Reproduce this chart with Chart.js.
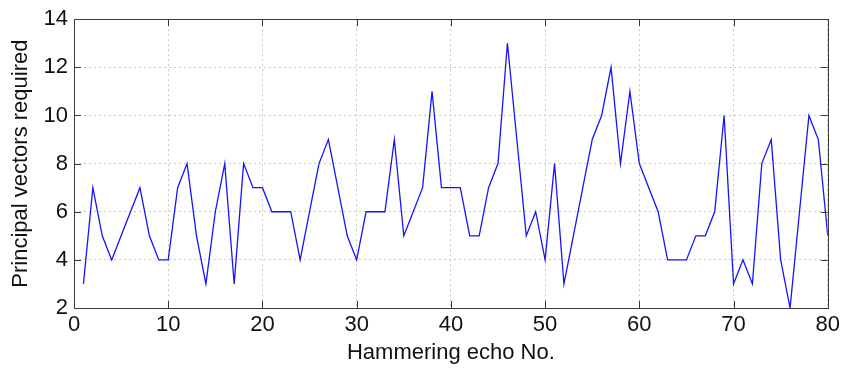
<!DOCTYPE html>
<html>
<head>
<meta charset="utf-8">
<script src="https://cdn.jsdelivr.net/npm/chart.js@4/dist/chart.umd.min.js"></script>
<style>
  html, body { margin: 0; padding: 0; background: #fff; }
</style>
</head>
<body>
<canvas id="myChart" width="844" height="369"></canvas>
<script>
// echo number 1..80 and how many principal vectors each one needed
var echoNo = [];
for (var n = 1; n <= 80; n++) echoNo.push(n);

var vectorsRequired = [
  3, 7, 5, 4, 5, 6, 7, 5, 4, 4,
  7, 8, 5, 3, 6, 8, 3, 8, 7, 7,
  6, 6, 6, 4, 6, 8, 9, 7, 5, 4,
  6, 6, 6, 9, 5, 6, 7, 11, 7, 7,
  7, 5, 5, 7, 8, 13, 9, 5, 6, 4,
  8, 3, 5, 7, 9, 10, 12, 8, 11, 8,
  7, 6, 4, 4, 4, 5, 5, 6, 10, 3,
  4, 3, 8, 9, 4, 2, 6, 10, 9, 5
];

var xTicks = [0, 10, 20, 30, 40, 50, 60, 70, 80];
var yTicks = [2, 4, 6, 8, 10, 12, 14];

var points = [];
for (var i = 0; i < echoNo.length; i++) {
  points.push({ x: echoNo[i], y: vectorsRequired[i] });
}

var fontFamily = "'Liberation Sans', Arial, sans-serif";

// matlab style box with inward tick marks on all four sides
var boxPlugin = {
  id: "box",
  afterDraw: function(chart) {
    var ctx = chart.ctx;
    var a = chart.chartArea;
    var xs = chart.scales.x, ys = chart.scales.y;
    var len = 7;
    ctx.save();
    ctx.strokeStyle = "#3a3a3a";
    ctx.lineWidth = 1;
    ctx.strokeRect(Math.round(a.left) + 0.5, Math.round(a.top) + 0.5,
      Math.round(a.right - a.left), Math.round(a.bottom - a.top));
    ctx.beginPath();
    xTicks.forEach(function(v) {
      var px = Math.round(xs.getPixelForValue(v)) + 0.5;
      ctx.moveTo(px, a.bottom); ctx.lineTo(px, a.bottom - len);
      ctx.moveTo(px, a.top); ctx.lineTo(px, a.top + len);
    });
    yTicks.forEach(function(v) {
      var py = Math.round(ys.getPixelForValue(v)) + 0.5;
      ctx.moveTo(a.left, py); ctx.lineTo(a.left + len, py);
      ctx.moveTo(a.right, py); ctx.lineTo(a.right - len, py);
    });
    ctx.stroke();
    ctx.restore();
  }
};

const config = {
  type: "line",
  data: {
    datasets: [
      {
        label: "Principal vectors",
        data: points,
        borderColor: "#1414ff",
        borderWidth: 1.3,
        pointRadius: 0,
        tension: 0,
        fill: false
      }
    ]
  },
  options: {
    responsive: false,
    animation: false,
    layout: { padding: { top: 16, right: 16, left: 0, bottom: 0 } },
    plugins: {
      legend: { display: false },
      tooltip: { enabled: false }
    },
    scales: {
      x: {
        type: "linear",
        min: 0,
        max: 80,
        afterFit: function(scale) { scale.height = 61; },
        ticks: {
          stepSize: 10,
          color: "#111",
          padding: 4,
          maxRotation: 0,
          font: { family: fontFamily, size: 22 }
        },
        grid: { color: "#c8c8c8", lineWidth: 1, drawTicks: false },
        border: { display: false, dash: [2, 3] },
        title: {
          display: true,
          text: "Hammering echo No.",
          color: "#111",
          padding: { top: 0, bottom: 3 },
          font: { family: fontFamily, size: 22 }
        }
      },
      y: {
        min: 2,
        max: 14,
        afterFit: function(scale) { scale.width = 74; },
        ticks: {
          stepSize: 2,
          color: "#111",
          padding: 6,
          font: { family: fontFamily, size: 22 }
        },
        grid: { color: "#c8c8c8", lineWidth: 1, drawTicks: false },
        border: { display: false, dash: [2, 3] },
        title: {
          display: true,
          text: "Principal vectors required",
          color: "#111",
          padding: { top: 8, bottom: 0 },
          font: { family: fontFamily, size: 22 }
        }
      }
    }
  },
  plugins: [boxPlugin]
};

const myChart = new Chart(document.getElementById("myChart"), config);
</script>
</body>
</html>
